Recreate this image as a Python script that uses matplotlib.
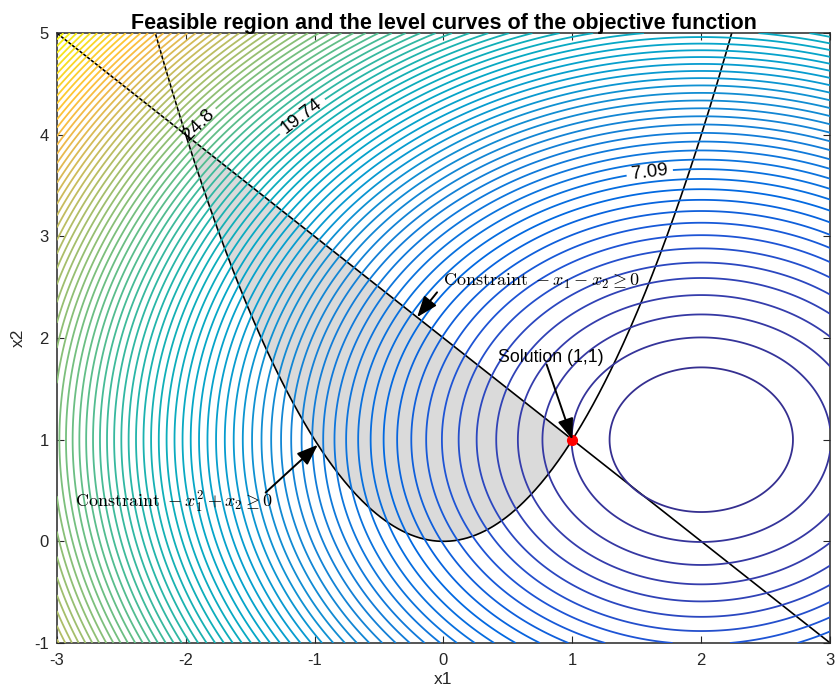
import numpy as np
import matplotlib
matplotlib.use("Agg")
import matplotlib.pyplot as plt
from matplotlib.colors import LinearSegmentedColormap

# objective f(x1, x2) = (x1 - c1)^2 + (x2 - c2)^2, drawn with 81 equal level steps
obj_center = (2.0, 1.0)
f_max = 41.0
n_steps = 81

# contour labels: level index, text, where it sits
label_idx = [14, 39, 49]
label_text = ["7.09", "19.74", "24.8"]
label_pos = [(1.60, 3.63), (-1.06, 4.12), (-1.90, 4.10)]

solution = (1.0, 1.0)
x_lim = (-3, 3)
y_lim = (-1, 5)
x_ticks = [-3, -2, -1, 0, 1, 2, 3]
y_ticks = [-1, 0, 1, 2, 3, 4, 5]

# annotations: text, text position, arrow tail, arrow head
ann_text = [r"$\mathrm{Constraint}\ -x_1 - x_2 \geq 0$",
            "Solution (1,1)",
            r"$\mathrm{Constraint}\ -x_1^2 + x_2 \geq 0$"]
ann_text_pos = [(0.0, 2.56), (0.42, 1.81), (-2.86, 0.38)]
ann_tail = [(-0.05, 2.45), (0.80, 1.74), (-1.38, 0.48)]
ann_head = [(-0.205, 2.205), (1.0, 1.0), (-0.975, 0.95)]

# MATLAB parula, sampled
parula = [
    (0.2081, 0.1663, 0.5292), (0.2081, 0.2386, 0.6771), (0.1253, 0.3242, 0.8303),
    (0.0060, 0.4086, 0.8828), (0.0498, 0.4586, 0.8641), (0.0779, 0.5040, 0.8384),
    (0.0641, 0.5570, 0.8240), (0.0265, 0.6137, 0.8135), (0.0228, 0.6535, 0.7768),
    (0.0590, 0.6838, 0.7254), (0.1453, 0.7098, 0.6646), (0.2586, 0.7317, 0.5954),
    (0.3953, 0.7459, 0.5244), (0.5300, 0.7491, 0.4661), (0.6473, 0.7456, 0.4188),
    (0.7525, 0.7384, 0.3768), (0.8507, 0.7299, 0.3360), (0.9450, 0.7261, 0.2886),
    (0.9990, 0.7653, 0.2164), (0.9789, 0.8271, 0.1633), (0.9589, 0.8949, 0.1132),
    (0.9763, 0.9831, 0.0538),
]
cmap = LinearSegmentedColormap.from_list("parula", parula)

plt.rcParams["font.family"] = ["Liberation Sans", "DejaVu Sans"]
plt.rcParams["mathtext.fontset"] = "cm"
plt.rcParams["axes.unicode_minus"] = False

fig = plt.figure(figsize=(8.36, 6.86), dpi=100)
ax = fig.add_axes([0.068, 0.0627, 0.925, 0.889])

# feasible region: x1^2 <= x2 <= 2 - x1
xr = np.linspace(-2, 1, 300)
ax.fill_between(xr, xr ** 2, 2 - xr, color="0.855", linewidth=0, zorder=1)

# constraint boundaries
xp = np.linspace(-np.sqrt(5), np.sqrt(5), 400)
ax.plot(xp, xp ** 2, color="k", lw=1.2, zorder=1.5)
ax.plot(x_lim, [y_lim[1], y_lim[0]], color="k", lw=1.2, zorder=1.5)

# level curves on top; labelled levels drawn as their own set so clabel can find them
gx, gy = np.meshgrid(np.linspace(-3, 3, 601), np.linspace(-1, 5, 601))
fz = (gx - obj_center[0]) ** 2 + (gy - obj_center[1]) ** 2
levels = np.arange(n_steps + 1) * f_max / n_steps
lab_levels = [levels[i] for i in label_idx]
plain_levels = [lv for i, lv in enumerate(levels) if i not in label_idx]
ax.contour(gx, gy, fz, levels=plain_levels, cmap=cmap, vmin=0, vmax=f_max,
           linewidths=1.3, zorder=2)
cs = ax.contour(gx, gy, fz, levels=lab_levels, cmap=cmap, vmin=0, vmax=f_max,
                linewidths=1.3, zorder=2)
ax.clabel(cs, inline=True, inline_spacing=5, fontsize=13.5,
          colors="k", fmt=dict(zip(cs.levels, label_text)), manual=label_pos)

ax.plot(*solution, "o", color="#ff0000", markersize=7, zorder=4)

for txt, tp, tail, head in zip(ann_text, ann_text_pos, ann_tail, ann_head):
    size = 12.8 if txt.startswith("Solution") else 13
    ax.text(tp[0], tp[1], txt, fontsize=size, ha="left", va="center", zorder=5)
    ax.annotate("", xy=head, xytext=tail,
                arrowprops=dict(arrowstyle="-|>,head_length=0.8,head_width=0.3",
                                color="k", lw=1.4, shrinkA=0, shrinkB=0,
                                mutation_scale=16),
                zorder=5)

ax.set_xlim(*x_lim)
ax.set_ylim(*y_lim)
ax.set_xticks(x_ticks)
ax.set_yticks(y_ticks)
ax.tick_params(direction="in", top=True, right=True, length=5, width=0.8,
               colors="0.15", labelsize=12, labelcolor="0.15")
ax.tick_params(axis="x", pad=7)
ax.tick_params(axis="y", pad=6)
for s in ax.spines.values():
    s.set_zorder(1.9)
    s.set_color("0.15")
    s.set_linewidth(1.1)

ax.set_xlabel("x1", fontsize=12.5, color="0.15", labelpad=3)
ax.set_ylabel("x2", fontsize=12.5, color="0.15", labelpad=6)
ax.set_title("Feasible region and the level curves of the objective function",
             fontsize=15.5, fontweight="bold", pad=3)

fig.savefig("out.png", dpi=100, facecolor="white")
